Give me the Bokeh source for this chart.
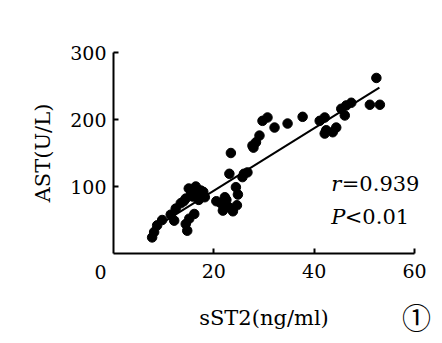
import numpy as np
from bokeh.plotting import figure
from bokeh.models import Range1d, FixedTicker, Label
from bokeh.embed import file_html
from bokeh.resources import INLINE

# data
sst2 = [7.7, 8.1, 8.7, 9.7, 11.4, 12.1, 12.4, 13.4, 14.4, 14.4, 14.7, 15.1, 16.1,
        15.0, 16.4, 17.4, 15.5, 16.8, 14.0, 15.8, 17.0, 16.2, 17.9, 18.2,
        20.5, 21.4, 21.8, 22.2, 22.5, 23.0, 23.8, 24.6, 24.8, 24.4, 23.1, 25.7, 26.0, 26.7,
        23.4, 27.7, 27.9, 28.4, 29.1, 29.7, 30.7, 32.1, 34.7, 37.7,
        41.1, 42.1, 42.4, 42.1, 43.7, 44.4, 45.4, 46.1, 46.4, 47.4, 51.1, 53.1, 52.4]
ast = [24, 32, 42, 50, 58, 49, 67, 75, 82, 44, 34, 52, 59,
       97, 100, 94, 90, 88, 78, 85, 80, 95, 92, 84,
       78, 75, 64, 84, 80, 69, 63, 72, 88, 99, 119, 114, 119, 121,
       150, 161, 158, 166, 176, 198, 203, 188, 194, 204,
       198, 203, 184, 179, 181, 188, 216, 206, 221, 225, 222, 222, 262]

fit_slope = 4.66
fit_intercept = 0.5
fit_x = [7.7, 53.0]

x_ticks = [20, 40, 60]
y_ticks = [100, 200, 300]
x_label = "sST2(ng/ml)"
y_label = "AST(U/L)"
stat_r = ["r", "=0.939"]
stat_p = ["P", "<0.01"]
panel_mark = "①"

SERIF = "DejaVu Serif"

# frame covers the whole canvas; axes are pinned at the data origin
W, H = 442, 343
x0_px, x60_px = 113, 414
y0_px, y300_px = 253, 52
sx = (x60_px - x0_px) / 60.0
sy = (y0_px - y300_px) / 300.0
x_range = Range1d(-x0_px / sx, 60 + (W - x60_px) / sx)
y_range = Range1d(-(H - y0_px) / sy, 300 + y300_px / sy)

p = figure(width=W, height=H, output_backend="svg", toolbar_location=None,
           x_range=x_range, y_range=y_range,
           min_border_left=0, min_border_right=0, min_border_top=0,
           min_border_bottom=0)
p.outline_line_color = None
p.xgrid.visible = False
p.ygrid.visible = False
p.background_fill_color = "white"
p.border_fill_color = "white"

p.scatter(sst2, ast, size=9.5, color="black")
fx = np.array(fit_x)
p.line(fx, fit_slope * fx + fit_intercept, line_color="black", line_width=2)

for ax in (p.xaxis[0], p.yaxis[0]):
    ax.fixed_location = 0
    ax.axis_line_width = 2
    ax.axis_line_color = "black"
    ax.major_tick_in = 5
    ax.major_tick_out = 0
    ax.major_tick_line_width = 2
    ax.minor_tick_line_color = None
    ax.major_label_text_font = SERIF
    ax.major_label_text_font_size = "19px"
    ax.major_label_text_color = "black"
    ax.axis_label_text_font = SERIF
    ax.axis_label_text_font_size = "21px"
    ax.axis_label_text_font_style = "normal"
    ax.axis_label_text_color = "black"

p.xaxis[0].bounds = (0, 60)
p.yaxis[0].bounds = (0, 300)
p.xaxis[0].ticker = FixedTicker(ticks=x_ticks)
p.yaxis[0].ticker = FixedTicker(ticks=y_ticks)
p.xaxis[0].major_label_standoff = 10
p.yaxis[0].major_label_standoff = 7
p.xaxis[0].axis_label = x_label
p.yaxis[0].axis_label = y_label
p.xaxis[0].axis_label_standoff = 25
p.yaxis[0].axis_label_standoff = 12

def txt(x, y, s, size="21px", style="normal", font=SERIF, align="left"):
    p.add_layout(Label(x=x, y=y, text=s, text_font=font, text_font_size=size,
                       text_font_style=style, text_align=align,
                       text_baseline="middle", text_color="black"))

# origin "0" label
txt(-2.6, -28, "0", size="19px", align="center")

# statistics text
txt(43.4, 104, stat_r[0], style="italic")
txt(45.5, 104, stat_r[1])
txt(43.4, 54, stat_p[0], style="italic")
txt(46.1, 54, stat_p[1])

# panel mark
txt(60.4, -94, panel_mark, size="29px", font="Noto Sans CJK SC", align="center")

open("out.html", "w").write(file_html(p, INLINE))
